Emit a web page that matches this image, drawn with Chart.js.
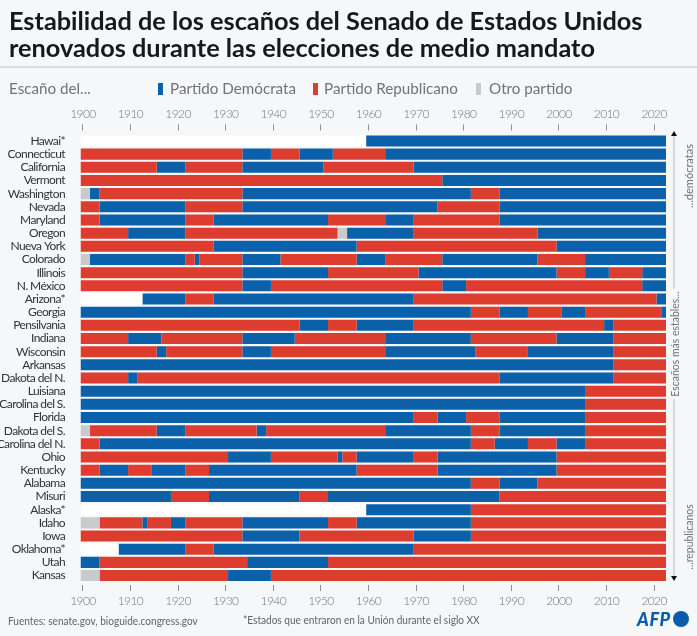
<!DOCTYPE html>
<html lang="es">
<head>
<meta charset="utf-8">
<title>Estabilidad de los escaños del Senado</title>
<script src="https://cdn.jsdelivr.net/npm/chart.js@4/dist/chart.umd.min.js"></script>
<style>
  html, body { margin: 0; padding: 0; }
  body { width: 697px; height: 636px; overflow: hidden; position: relative; background: #f6f7f9; font-family: Lato, sans-serif; }
  canvas { position: absolute; left: 0; top: 0; }
  .txt { position: absolute; white-space: nowrap; line-height: 1; }
  #title { left: 9px; top: 7px; font-size: 25.3px; font-weight: 700; line-height: 26.5px; color: #16181b; }
  #rule { position: absolute; left: 0; top: 66px; width: 697px; height: 2px; background: #d9dbde; }
  .legend { font-size: 15.2px; color: #6d747b; top: 81px; }
  .swatch { position: absolute; top: 83px; width: 5px; height: 12px; }
  .foot { font-size: 12px; color: #5d646b; transform-origin: left center; transform: scaleX(0.84); }
  .side { font-size: 12px; color: #6d747b; transform-origin: center; }
  #arrow { position: absolute; left: 673px; top: 134px; width: 2px; height: 444px; background: #d3d6da; }
  .head { position: absolute; left: 671px; width: 0; height: 0; border-left: 3px solid transparent; border-right: 3px solid transparent; }
</style>
</head>
<body>
<canvas id="seatsChart" width="697" height="636"></canvas>
<div id="title" class="txt">Estabilidad de los escaños del Senado de Estados Unidos<br>renovados durante las elecciones de medio mandato</div>
<div id="rule"></div>
<div class="txt legend" style="left:9px">Escaño del...</div>
<div id="legend"></div>
<div id="arrow"></div>
<div class="head" style="top:131px;border-bottom:5px solid #111"></div>
<div class="head" style="top:576px;border-top:5px solid #111"></div>
<div class="txt side" style="left:689px;top:176px;transform:translate(-50%,-50%) rotate(-90deg) scaleX(0.92)">...demócratas</div>
<div class="txt side" style="left:675px;top:344px;background:#f6f7f9;padding:0 3px;transform:translate(-50%,-50%) rotate(-90deg) scaleX(0.87)">Escaños más estables...</div>
<div class="txt side" style="left:689px;top:537px;transform:translate(-50%,-50%) rotate(-90deg) scaleX(0.87)">...republicanos</div>
<div class="txt foot" style="left:8px;top:615px">Fuentes: senate.gov, bioguide.congress.gov</div>
<div class="txt foot" style="left:243px;top:614px">*Estados que entraron en la Unión durante el siglo XX</div>
<div class="txt" style="left:637px;top:610px;font-size:18px;font-weight:900;font-style:italic;letter-spacing:0.6px;color:#0b5ca8">AFP</div>
<div style="position:absolute;left:673px;top:611px;width:16px;height:16px;border-radius:50%;background:#0b5ca8"></div>
<script>
const states = [
  "Hawai*", "Connecticut", "California", "Vermont", "Washington", "Nevada", "Maryland",
  "Oregon", "Nueva York", "Colorado", "Illinois", "N. México", "Arizona*", "Georgia",
  "Pensilvania", "Indiana", "Wisconsin", "Arkansas", "Dakota del N.", "Luisiana",
  "Carolina del S.", "Florida", "Dakota del S.", "Carolina del N.", "Ohio", "Kentucky",
  "Alabama", "Misuri", "Alaska*", "Idaho", "Iowa", "Oklahoma*", "Utah", "Kansas",
];

// who held the seat in each period: B democrat, R republican, O other, - not yet a state
const seatParties = [
  "-B", "RBRBRB", "RBRBRB", "RB", "OBRBRB", "RBRBRB", "RBRBRBRB",
  "RBROBRB", "RBRB", "OBRBRBRBRBRB", "RBRBRBRB", "RBRBRB", "-BRBRB", "BRBRBRB",
  "RBRBRBR", "RBRBRBRBR", "RBRBRBRBR", "BR", "RBRBR", "BR",
  "BR", "BRBRBR", "ORBRBRBRBR", "RBRBRBR", "RBRBRBRBR", "RBRBRBRBR",
  "BRBR", "BRBRBR", "-BR", "ORBRBRBRBR", "RBRBR", "-BRBR", "BRBR", "ORBR",
];

// years where the seat changes hands, one list per state
const changeYears = [
  [1959.5],
  [1933.5, 1939.5, 1945.5, 1952.5, 1963.5],
  [1915.5, 1921.5, 1933.5, 1950.5, 1969.5],
  [1975.5],
  [1901.5, 1903.5, 1933.5, 1981.5, 1987.5],
  [1903.5, 1921.5, 1933.5, 1974.5, 1987.5],
  [1903.5, 1921.5, 1927.5, 1951.5, 1963.5, 1969.5, 1987.5],
  [1909.5, 1921.5, 1953.5, 1955.5, 1969.5, 1995.5],
  [1927.5, 1957.5, 1999.5],
  [1901.5, 1921.5, 1923.5, 1924.5, 1933.5, 1941.5, 1957.5, 1963.5, 1975.5, 1995.5, 2005.5],
  [1933.5, 1951.5, 1970.5, 1999.5, 2005.5, 2010.5, 2017.5],
  [1933.5, 1939.5, 1975.5, 1980.5, 2017.5],
  [1912.5, 1921.5, 1927.5, 1969.5, 2020.5],
  [1981.5, 1987.5, 1993.5, 2000.5, 2005.5, 2021.5],
  [1945.5, 1951.5, 1957.5, 1969.5, 2009.5, 2011.5],
  [1909.5, 1916.5, 1933.5, 1944.5, 1963.5, 1981.5, 1999.5, 2011.5],
  [1915.5, 1917.5, 1933.5, 1939.5, 1963.5, 1982.5, 1993.5, 2011.5],
  [2011.5],
  [1909.5, 1911.5, 1987.5, 2011.5],
  [2005.5],
  [2005.5],
  [1969.5, 1974.5, 1980.5, 1987.5, 2005.5],
  [1901.5, 1915.5, 1921.5, 1936.5, 1938.5, 1963.5, 1981.5, 1987.5, 2005.5],
  [1903.5, 1981.5, 1986.5, 1993.5, 1999.5, 2005.5],
  [1930.5, 1939.5, 1953.5, 1954.5, 1957.5, 1969.5, 1974.5, 1999.5],
  [1903.5, 1909.5, 1914.5, 1921.5, 1926.5, 1957.5, 1974.5, 1999.5],
  [1981.5, 1987.5, 1995.5],
  [1918.5, 1926.5, 1945.5, 1951.5, 1987.5],
  [1959.5, 1981.5],
  [1903.5, 1912.5, 1913.5, 1918.5, 1921.5, 1933.5, 1951.5, 1957.5, 1981.5],
  [1933.5, 1945.5, 1969.5, 1981.5],
  [1907.5, 1921.5, 1927.5, 1969.5],
  [1903.5, 1934.5, 1951.5],
  [1903.5, 1930.5, 1939.5],
];

const tickYears = [1900, 1910, 1920, 1930, 1940, 1950, 1960, 1970, 1980, 1990, 2000, 2010, 2020];
const firstYear = 1899.5;
const lastYear = 2022.5;

const partyColors = { B: "#0b60aa", R: "#dd3d2f", O: "#c9cacb", "-": "#ffffff" };

const legendNames = ["Partido Demócrata", "Partido Republicano", "Otro partido"];
const legendKeys = ["B", "R", "O"];
const legendSwatchX = [158, 313, 476];
const legendTextX = [170, 324, 489];

document.addEventListener("DOMContentLoaded", () => {
  renderLegend();
  renderSeatsChart();
});

function renderLegend() {
  const holder = document.getElementById("legend");
  legendNames.forEach((name, i) => {
    const swatch = document.createElement("div");
    swatch.className = "swatch";
    swatch.style.left = legendSwatchX[i] + "px";
    swatch.style.background = partyColors[legendKeys[i]];
    holder.appendChild(swatch);

    const label = document.createElement("div");
    label.className = "txt legend";
    label.style.left = legendTextX[i] + "px";
    label.textContent = name;
    holder.appendChild(label);
  });
}

function buildDatasets() {
  const maxSegments = Math.max(...changeYears.map(c => c.length + 1));
  const datasets = [];
  for (let seg = 0; seg < maxSegments; seg++) {
    const data = [];
    const colors = [];
    states.forEach((_, s) => {
      const edges = [firstYear, ...changeYears[s], lastYear];
      if (seg < edges.length - 1) {
        data.push([edges[seg], edges[seg + 1]]);
        colors.push(partyColors[seatParties[s][seg]]);
      } else {
        data.push(null);
        colors.push("transparent");
      }
    });
    datasets.push({ data, backgroundColor: colors, grouped: false, barPercentage: 0.84, categoryPercentage: 1 });
  }
  return datasets;
}

function yearAxis(position, tickLength, dash, dashOffset) {
  return {
    type: "linear",
    position,
    min: firstYear,
    max: lastYear,
    afterBuildTicks: (axis) => { axis.ticks = tickYears.map(value => ({ value })); },
    afterFit: (axis) => { axis.height = position === "top" ? 134.4 : 53.9; },
    border: { display: false },
    grid: {
      drawOnChartArea: false,
      tickLength,
      tickColor: "#8b9096",
      tickBorderDash: dash,
      tickBorderDashOffset: dashOffset,
    },
    ticks: {
      autoSkip: false,
      maxRotation: 0,
      padding: 3,
      color: "#71777d",
      font: { family: "Lato", size: 12, weight: "300" },
      callback: (value) => String(value),
    },
  };
}

// the source font is narrower than any installed one, so tighten the axis text a bit
const tightText = {
  id: "tightText",
  beforeDraw: (chart) => { chart.ctx.letterSpacing = "-0.6px"; },
};

function renderSeatsChart() {
  const ctx = document.getElementById("seatsChart").getContext("2d");
  new Chart(ctx, {
    type: "bar",
    data: { labels: states, datasets: buildDatasets() },
    plugins: [tightText],
    options: {
      indexAxis: "y",
      responsive: false,
      animation: false,
      layout: { padding: { left: 0, right: 31, top: 0, bottom: 0 } },
      plugins: { legend: { display: false }, tooltip: { enabled: false } },
      scales: {
        x: yearAxis("bottom", 9, [6, 20], 23),
        xTop: yearAxis("top", 10, [6, 20], 0),
        y: {
          type: "category",
          afterFit: (axis) => { axis.width = 80.5; },
          border: { display: false },
          grid: { display: false },
          ticks: {
            autoSkip: false,
            padding: 7.5,
            color: "#2f3338",
            font: { family: "Lato", size: 12 },
          },
        },
      },
    },
  });
}
</script>
</body>
</html>
